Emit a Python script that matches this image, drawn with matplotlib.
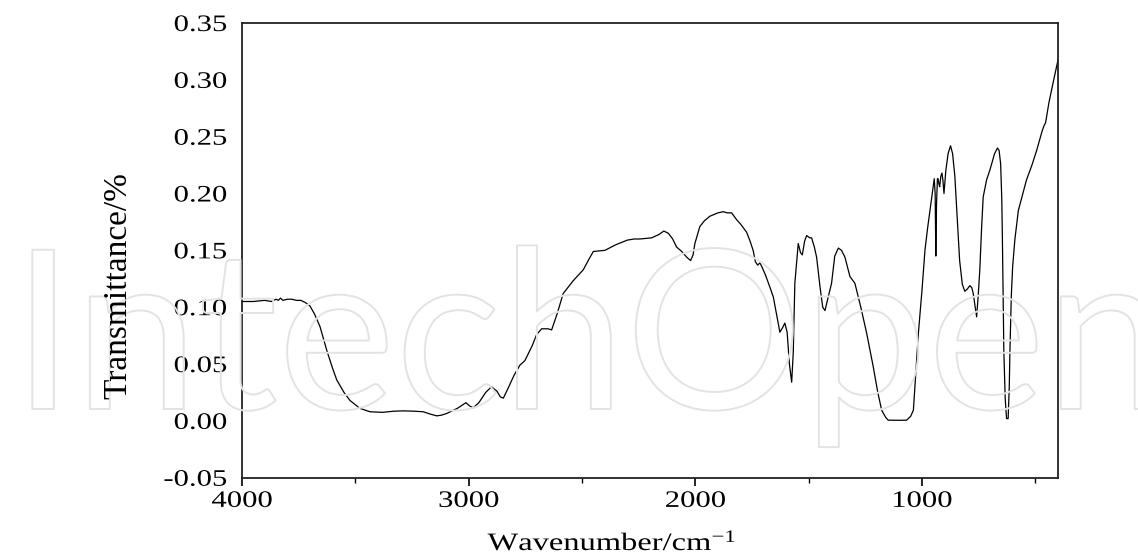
import matplotlib
matplotlib.use("Agg")
import matplotlib.pyplot as plt
from matplotlib.patheffects import AbstractPathEffect
from matplotlib.transforms import Affine2D
from matplotlib.ticker import MultipleLocator

# ---- data ----
wavenumber = [4000, 3950, 3900, 3870, 3850, 3840, 3830, 3820, 3800, 3780, 3760, 3740, 3720, 3700,
              3680, 3656, 3626, 3600, 3582, 3550, 3524, 3480, 3435, 3380, 3330, 3288, 3240, 3200,
              3170, 3141, 3120, 3097, 3050, 3012, 2995, 2980, 2955, 2925, 2899, 2875, 2860, 2847,
              2830, 2800, 2774, 2752, 2720, 2700, 2678, 2650, 2634, 2610, 2583, 2540, 2494, 2470,
              2450, 2399, 2350, 2300, 2270, 2244, 2193, 2160, 2139, 2119, 2100, 2083, 2060, 2038,
              2021, 2010, 2002, 1980, 1960, 1936, 1900, 1877, 1860, 1840, 1818, 1800, 1774, 1760,
              1745, 1735, 1725, 1715, 1705, 1690, 1670, 1656, 1640, 1627, 1615, 1605, 1595, 1585,
              1575, 1568, 1561, 1546, 1536, 1528, 1518, 1509, 1495, 1487, 1475, 1465, 1450, 1438,
              1428, 1415, 1399, 1385, 1369, 1355, 1340, 1318, 1296, 1270, 1244, 1215, 1195, 1178,
              1160, 1149, 1100, 1068, 1050, 1038, 1028, 1016, 1000, 987, 975, 965, 955, 946, 942,
              939, 936, 932, 929, 925, 922, 917, 912, 908, 903, 895, 885, 874, 865, 855, 845, 834,
              822, 811, 800, 789, 780, 774, 765, 759, 752, 745, 737, 730, 715, 700, 680, 667, 660,
              653, 648, 645, 639, 633, 627, 620, 615, 612, 606, 600, 590, 575, 555, 539, 515, 494,
              470, 461, 455, 440, 420, 400]
transmittance = [0.105, 0.105, 0.106, 0.105, 0.107, 0.106, 0.108, 0.106, 0.107, 0.107, 0.106, 0.106, 0.104, 0.101,
                 0.094, 0.083, 0.062, 0.046, 0.036, 0.025, 0.018, 0.011, 0.008, 0.0075, 0.0085, 0.0088, 0.0085, 0.008,
                 0.006, 0.0044, 0.005, 0.0065, 0.011, 0.016, 0.013, 0.0115, 0.016, 0.025, 0.030, 0.026, 0.021, 0.020,
                 0.027, 0.040, 0.049, 0.053, 0.066, 0.076, 0.081, 0.081, 0.080, 0.094, 0.112, 0.123, 0.133, 0.142,
                 0.149, 0.150, 0.155, 0.159, 0.160, 0.160, 0.161, 0.164, 0.167, 0.165, 0.160, 0.153, 0.149, 0.144,
                 0.141, 0.146, 0.156, 0.171, 0.176, 0.180, 0.183, 0.184, 0.183, 0.183, 0.177, 0.173, 0.166, 0.159,
                 0.150, 0.140, 0.137, 0.139, 0.135, 0.128, 0.117, 0.109, 0.092, 0.078, 0.082, 0.086, 0.078, 0.050,
                 0.034, 0.060, 0.121, 0.156, 0.148, 0.146, 0.158, 0.163, 0.161, 0.161, 0.153, 0.144, 0.118, 0.100,
                 0.097, 0.108, 0.121, 0.145, 0.152, 0.150, 0.144, 0.127, 0.121, 0.100, 0.077, 0.0475, 0.025, 0.0094,
                 0.003, 0.0006, 0.0005, 0.0006, 0.004, 0.0094, 0.040, 0.077, 0.115, 0.150, 0.170, 0.185, 0.200, 0.213, 0.200,
                 0.145, 0.190, 0.213, 0.213, 0.208, 0.206, 0.215, 0.218, 0.212, 0.200, 0.220, 0.235, 0.242, 0.235, 0.215, 0.180, 0.141,
                 0.120, 0.114, 0.116, 0.119, 0.117, 0.112, 0.100, 0.0915, 0.110, 0.133, 0.170, 0.197, 0.212, 0.221, 0.235, 0.240, 0.238,
                 0.226, 0.195, 0.156, 0.062, 0.020, 0.002, 0.002, 0.030, 0.062, 0.110, 0.136, 0.160, 0.185, 0.200, 0.212, 0.225, 0.238,
                 0.255, 0.260, 0.262, 0.280, 0.299, 0.3175]
x_ticks = [4000, 3000, 2000, 1000]
y_ticks = [-0.05, 0.00, 0.05, 0.10, 0.15, 0.20, 0.25, 0.30, 0.35]
x_label = "Wavenumber/cm$^{-1}$"
y_label = "Transmittance/%"
watermark = "IntechOpen"

plt.rcParams["mathtext.fontset"] = "custom"
plt.rcParams["mathtext.rm"] = "Liberation Serif"
plt.rcParams["mathtext.default"] = "regular"


class HStretch(AbstractPathEffect):
    """Stretch a text path horizontally about its left/center/right edge."""
    def __init__(self, sx, anchor="center"):
        super().__init__()
        self.sx = sx
        self.anchor = anchor

    def draw_path(self, renderer, gc, tpath, affine, rgbFace=None):
        ext = tpath.get_extents(affine)
        if self.anchor == "right":
            cx = ext.x1
        elif self.anchor == "left":
            cx = ext.x0
        else:
            cx = 0.5 * (ext.x0 + ext.x1)
        t = affine + Affine2D().translate(-cx, 0).scale(self.sx, 1.0).translate(cx, 0)
        renderer.draw_path(gc, tpath, t, rgbFace)


class StretchedStroke(HStretch):
    def __init__(self, sx, anchor, linewidth, foreground):
        super().__init__(sx, anchor)
        self.lw = linewidth
        self.fg = foreground

    def draw_path(self, renderer, gc, tpath, affine, rgbFace=None):
        gc0 = renderer.new_gc()
        gc0.copy_properties(gc)
        gc0.set_linewidth(self.lw)
        gc0.set_foreground(self.fg)
        super().draw_path(renderer, gc0, tpath, affine, None)
        gc0.restore()


W, H = 1138, 557
fig = plt.figure(figsize=(W / 100, H / 100), dpi=100)
fig.patch.set_facecolor("white")

serif = ["Liberation Serif", "DejaVu Serif"]

# watermark (outlined letters)
fig.text(12 / W, 1 - 409 / H, watermark, fontsize=160, family=["Lato", "DejaVu Sans"],
         fontweight="normal", color=(1, 1, 1, 0), ha="left", va="baseline", zorder=0,
         path_effects=[StretchedStroke(1.0, "left", 1.4, "#e3e3e3")])

ax = fig.add_axes([242 / W, 1 - 477.7 / H, (1058 - 242) / W, (477.7 - 23) / H])
ax.set_facecolor("none")
ax.plot(wavenumber, transmittance, color="black", lw=0.9)

ax.set_xlim(4000, 400)
ax.set_ylim(-0.05, 0.35)
ax.set_xticks(x_ticks)
ax.xaxis.set_minor_locator(MultipleLocator(500))
ax.set_yticks(y_ticks)
ax.set_yticklabels([f"{v:.2f}" for v in y_ticks])

for s in ax.spines.values():
    s.set_linewidth(1.3)
    s.set_color("#222222")

ax.tick_params(axis="x", which="major", direction="out", length=5.5, width=1.2, pad=4)
ax.tick_params(axis="x", which="minor", direction="out", length=3.5, width=1.0)
ax.tick_params(axis="y", which="both", length=0, pad=11)

for lab in ax.get_xticklabels():
    lab.set_family(serif)
    lab.set_fontsize(17)
    lab.set_path_effects([HStretch(1.3, "center")])
for lab in ax.get_yticklabels():
    lab.set_family(serif)
    lab.set_fontsize(17)
    lab.set_path_effects([HStretch(1.3, "right")])

fig.text(612 / W, 1 - 543 / H, x_label, fontsize=18, family=serif, ha="center", va="center",
         path_effects=[HStretch(1.3, "center")])
fig.text(118 / W, 1 - 286 / H, y_label, fontsize=24, family=serif, rotation=90,
         ha="center", va="center")

fig.savefig("out.png", dpi=100)
